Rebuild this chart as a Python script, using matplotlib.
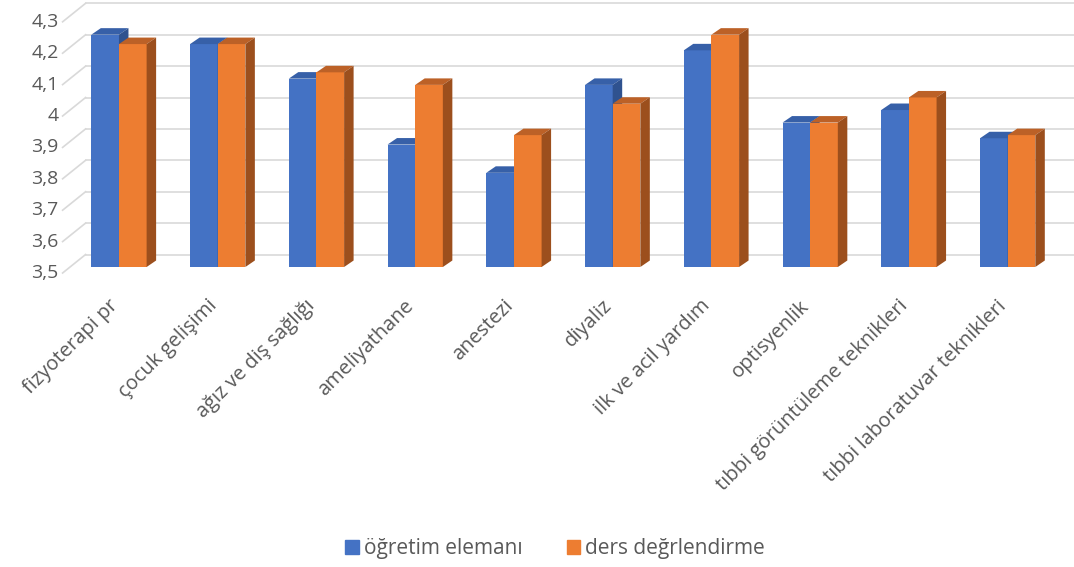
import matplotlib.pyplot as plt
from matplotlib.patches import Polygon, Patch

categories = ['fizyoterapi pr', 'çocuk gelişimi', 'ağız ve diş sağlığı', 'ameliyathane',
              'anestezi', 'diyaliz', 'ilk ve acil yardım', 'optisyenlik',
              'tıbbi görüntüleme teknikleri', 'tıbbi laboratuvar teknikleri']
ogretim = [4.24, 4.21, 4.10, 3.89, 3.80, 4.08, 4.19, 3.96, 4.00, 3.91]
ders = [4.21, 4.21, 4.12, 4.08, 3.92, 4.02, 4.24, 3.96, 4.04, 3.92]
series_names = ['öğretim elemanı', 'ders değrlendirme']
yticks = [3.5, 3.6, 3.7, 3.8, 3.9, 4.0, 4.1, 4.2, 4.3]
ytick_labels = ['3,5', '3,6', '3,7', '3,8', '3,9', '4', '4,1', '4,2', '4,3']

FONT = ['Open Sans', 'DejaVu Sans']
TXT = '#595959'
GRID = '#D9D9D9'
front_col = ['#4472C4', '#ED7D31']
top_col = ['#3760A8', '#BC6127']
side_col = ['#2F528F', '#9C4F1D']

fig = plt.figure(figsize=(10.74, 5.67), dpi=100)
ax = fig.add_axes([0.0648, 0.5291, 0.9194, 0.4430])
ax.set_xlim(-0.5, len(categories) - 0.5)
ax.set_ylim(3.5, 4.3)
ax.axis('off')

# pixels per data unit, used for the fake 3d depth
p0 = ax.transData.transform((0, 3.5))
p1 = ax.transData.transform((1, 4.5))
sx = p1[0] - p0[0]
sy = p1[1] - p0[1]

# front edge of wall / back wall offsets (px)
fx, fy = -7 / sx, -6 / sy
bx, by = 16 / sx, 12.5 / sy
x_left = -0.5

# back wall gridlines + left wall diagonals
for t in yticks:
    ax.plot([x_left + bx, len(categories) + 0.5], [t + by, t + by], color=GRID,
            lw=1.2, clip_on=False, zorder=0)
    ax.plot([x_left + fx, x_left + bx], [t + fy, t + by], color=GRID,
            lw=1.2, clip_on=False, zorder=0)
for t, lab in zip(yticks, ytick_labels):
    ax.text(x_left + fx - 4 / sx, t + fy, lab, ha='right', va='center',
            fontsize=14, color=TXT, family=FONT)

# bars
w = 0.28
ddx, ddy = 9.5 / sx, 6.5 / sy
for k, vals in enumerate([ogretim, ders]):
    for i, v in enumerate(vals):
        x0 = i - w + k * w
        x1 = x0 + w
        ax.bar(x0, v - 3.5, w, bottom=3.5, align='edge', color=front_col[k],
               zorder=2 + k * 3, clip_on=False)
        ax.add_patch(Polygon([(x0, v), (x1, v), (x1 + ddx, v + ddy), (x0 + ddx, v + ddy)],
                             closed=True, facecolor=top_col[k], edgecolor='none',
                             zorder=3 + k * 3, clip_on=False))
        ax.add_patch(Polygon([(x1, 3.5), (x1, v), (x1 + ddx, v + ddy), (x1 + ddx, 3.5 + ddy)],
                             closed=True, facecolor=side_col[k], edgecolor='none',
                             zorder=3 + k * 3, clip_on=False))

# category labels
for i, c in enumerate(categories):
    ax.text(i - 4 / sx, 3.5 - 36 / sy, c, rotation=45, rotation_mode='anchor',
            ha='right', va='center', fontsize=14.5, color=TXT, family=FONT)

handles = [Patch(color=front_col[0]), Patch(color=front_col[1])]
fig.legend(handles, series_names, loc='center', bbox_to_anchor=(0.517, 0.032), ncol=2,
           frameon=False, handlelength=0.65, handleheight=0.65, handletextpad=0.25,
           columnspacing=2.1, prop={'family': FONT, 'size': 15}, labelcolor=TXT)

fig.savefig('out.png', dpi=100)
